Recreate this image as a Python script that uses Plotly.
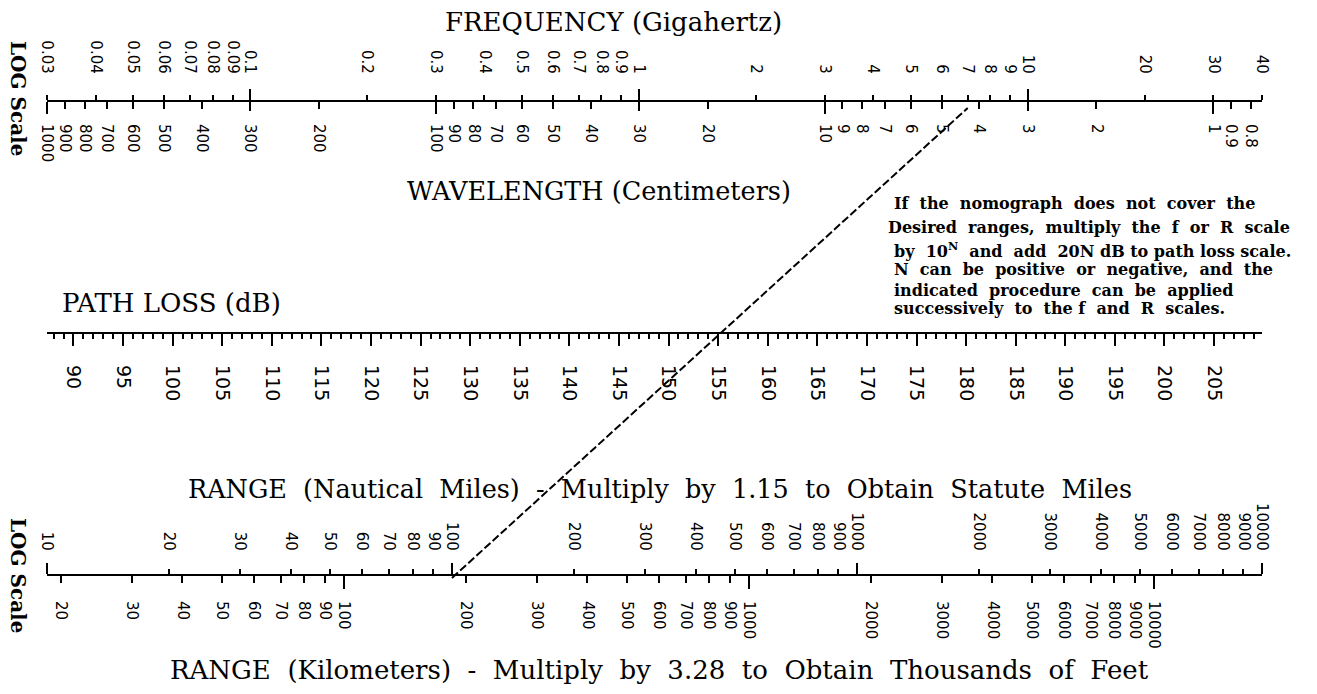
import numpy as np
import plotly.graph_objects as go

W, H = 1317, 694

# ---------------- data ----------------
freq_ghz = [0.03, 0.04, 0.05, 0.06, 0.07, 0.08, 0.09, 0.1, 0.2, 0.3, 0.4, 0.5, 0.6,
            0.7, 0.8, 0.9, 1, 2, 3, 4, 5, 6, 7, 8, 9, 10, 20, 30, 40]
freq_labels = ["0.03", "0.04", "0.05", "0.06", "0.07", "0.08", "0.09", "0.1", "0.2",
               "0.3", "0.4", "0.5", "0.6", "0.7", "0.8", "0.9", "1", "2", "3", "4",
               "5", "6", "7", "8", "9", "10", "20", "30", "40"]
freq_decades = [0.1, 1, 10]

wave_cm = [1000, 900, 800, 700, 600, 500, 400, 300, 200, 100, 90, 80, 70, 60, 50,
           40, 30, 20, 10, 9, 8, 7, 6, 5, 4, 3, 2, 1, 0.9, 0.8]
wave_labels = ["1000", "900", "800", "700", "600", "500", "400", "300", "200", "100",
               "90", "80", "70", "60", "50", "40", "30", "20", "10", "9", "8", "7",
               "6", "5", "4", "3", "2", "1", "0.9", "0.8"]
wave_decades = [1000, 100, 10, 1]

loss_major_db = list(range(90, 206, 5))
loss_labels = [str(v) for v in loss_major_db]
loss_minor_db = list(range(88, 210))

range_nm = [10, 20, 30, 40, 50, 60, 70, 80, 90, 100, 200, 300, 400, 500, 600, 700,
            800, 900, 1000, 2000, 3000, 4000, 5000, 6000, 7000, 8000, 9000, 10000]
range_nm_labels = [str(v) for v in range_nm]
range_nm_decades = [10, 100, 1000, 10000]

range_km = [20, 30, 40, 50, 60, 70, 80, 90, 100, 200, 300, 400, 500, 600, 700, 800,
            900, 1000, 2000, 3000, 4000, 5000, 6000, 7000, 8000, 9000, 10000]
range_km_labels = [str(v) for v in range_km]
range_km_decades = [100, 1000, 10000]

example_freq_ghz = 7.0
example_range_nm = 100.0

C_CM_GHZ = 30.0      # wavelength(cm) * frequency(GHz)
KM_PER_NM = 1.852

f_lo, f_hi = 0.03, 40.0
nm_lo, nm_hi = 10.0, 10000.0


def fspl_db(f, nm):
    return 20 * np.log10(f * 1000.0) + 20 * np.log10(nm * KM_PER_NM) + 32.44


# ---------------- layout geometry (pixels) ----------------
X0, X1 = 47, 1262
Y_FREQ, Y_RANGE = 101, 575
# path-loss line of a parallel-scale nomograph
dec_f = np.log10(f_hi / f_lo)
dec_r = np.log10(nm_hi / nm_lo)
t_loss = dec_r / (dec_f + dec_r)
Y_LOSS = Y_FREQ + t_loss * (Y_RANGE - Y_FREQ)

dom = [X0 / W, X1 / W]
EPS = 1e-7


def pos(ypx):
    return 1 - ypx / H


TICKFONT = dict(family="DejaVu Sans", size=15, color="black")
SERIF = "DejaVu Serif"

base = dict(domain=dom, anchor="free", showgrid=False, zeroline=False, automargin=False,
            ticks="outside", tickwidth=2, tickcolor="black", linecolor="black",
            linewidth=2, tickfont=TICKFONT, tickangle=90, tickmode="array",
            fixedrange=True)


def ax(**kw):
    d = dict(base)
    d.update(kw)
    return d


lf = [np.log10(f_lo) - EPS, np.log10(f_hi) + EPS]
lw = [np.log10(C_CM_GHZ / f_lo) + EPS, np.log10(C_CM_GHZ / f_hi) - EPS]
ll = [fspl_db(f_lo, nm_lo) - EPS, fspl_db(f_hi, nm_hi) + EPS]
ln = [np.log10(nm_lo) - EPS, np.log10(nm_hi) + EPS]
lk = [np.log10(nm_lo * KM_PER_NM) - EPS, np.log10(nm_hi * KM_PER_NM) + EPS]

layout = dict(
    width=W, height=H, margin=dict(l=0, r=0, t=0, b=0, pad=0, autoexpand=False),
    paper_bgcolor="white", plot_bgcolor="white", showlegend=False,
    yaxis=dict(range=[H, 0], visible=False, domain=[0, 1], fixedrange=True,
               automargin=False),
    # frequency (top of line)
    xaxis=ax(type="log", range=lf, side="top", position=pos(Y_FREQ), showline=True,
             ticklen=5, tickvals=freq_ghz, ticktext=freq_labels, ticklabelstandoff=16),
    xaxis2=ax(type="log", range=lf, side="top", position=pos(Y_FREQ), overlaying="x",
              ticklen=11, tickvals=freq_decades, showticklabels=False),
    xaxis3=ax(type="log", range=lf, side="bottom", position=pos(Y_FREQ), overlaying="x",
              ticklen=9, tickvals=freq_decades, showticklabels=False),
    # wavelength (bottom of line)
    xaxis4=ax(type="log", range=lw, side="bottom", position=pos(Y_FREQ), overlaying="x",
              ticklen=7, tickvals=wave_cm, ticktext=wave_labels, ticklabelstandoff=12),
    xaxis5=ax(type="log", range=lw, side="bottom", position=pos(Y_FREQ), overlaying="x",
              ticklen=12, tickvals=wave_decades, showticklabels=False),
    # path loss
    xaxis6=ax(type="linear", range=ll, side="bottom", position=pos(Y_LOSS), overlaying="x",
              showline=True, ticklen=12, tickvals=loss_major_db, ticktext=loss_labels,
              tickfont=dict(family="DejaVu Sans", size=19, color="black"),
              ticklabelstandoff=15,
              minor=dict(tickmode="array", tickvals=loss_minor_db, ticklen=5,
                         tickwidth=2, tickcolor="black", ticks="outside")),
    # range nautical miles (top of line)
    xaxis7=ax(type="log", range=ln, side="top", position=pos(Y_RANGE), overlaying="x",
              showline=True, ticklen=5, tickvals=range_nm, ticktext=range_nm_labels,
              ticklabelstandoff=13),
    xaxis8=ax(type="log", range=ln, side="top", position=pos(Y_RANGE), overlaying="x",
              ticklen=11, tickvals=range_nm_decades, showticklabels=False),
    # range km (bottom of line)
    xaxis9=ax(type="log", range=lk, side="bottom", position=pos(Y_RANGE), overlaying="x",
              ticklen=7, tickvals=range_km, ticktext=range_km_labels, ticklabelstandoff=15),
    xaxis10=ax(type="log", range=lk, side="bottom", position=pos(Y_RANGE), overlaying="x",
               ticklen=13, tickvals=range_km_decades, showticklabels=False),
)

fig = go.Figure(layout=layout)

# empty traces so that every overlay axis gets drawn
for i in range(2, 11):
    fig.add_trace(go.Scatter(x=[], y=[], xaxis=f"x{i}", yaxis="y", hoverinfo="skip"))

# example path: range 100 nm  ->  7 GHz, drawn on the frequency axis
frac_r = (np.log10(example_range_nm) - np.log10(nm_lo)) / dec_r
f_equiv = 10 ** (np.log10(f_lo) + frac_r * dec_f)
fig.add_trace(go.Scatter(
    x=[f_equiv, example_freq_ghz], y=[Y_RANGE + 3, Y_FREQ + 7],
    xaxis="x", yaxis="y", mode="lines", hoverinfo="skip",
    line=dict(color="black", width=2, dash="8px,3px")))

ann = []


def text(s, xpx, ypx, size, family=SERIF, angle=0, xanchor="center", yanchor="middle",
         weight="normal"):
    ann.append(dict(text=s, x=xpx / W, y=1 - ypx / H, xref="paper", yref="paper",
                    showarrow=False, textangle=angle, xanchor=xanchor, yanchor=yanchor,
                    font=dict(family=family, size=size, color="black", weight=weight)))


def wide(s):
    return s.replace(" ", "  ")


text("FREQUENCY (Gigahertz)", 613, 22, 26)
text("WAVELENGTH (Centimeters)", 599, 191, 25.5)
text("PATH LOSS (dB)", 171, 303, 26)
text(wide("RANGE (Nautical Miles) - Multiply by 1.15 to Obtain Statute Miles"), 660, 489, 25.5)
text(wide("RANGE (Kilometers) - Multiply by 3.28 to Obtain Thousands of Feet"), 659, 670, 26)
text("LOG Scale", 18, 98, 20, angle=90, weight="bold")
text("LOG Scale", 18, 575, 20, angle=90, weight="bold")

note = [wide("If the nomograph does not cover the"),
        wide("Desired ranges, multiply the f or R scale"),
        "by  10<sup>N</sup>  and  add  20N dB to path loss scale.",
        wide("N can be positive or negative, and the"),
        wide("indicated procedure can be applied"),
        "successively  to  the f  and  R  scales."]
note_x = [892, 886, 892, 892, 892, 892]
note_y = [203, 227, 250, 269, 290, 308]
for s, xx, yy in zip(note, note_x, note_y):
    text(s, xx, yy, 16, weight="bold", xanchor="left")

fig.update_layout(annotations=ann)
fig.write_html("out.html", config={"displayModeBar": False},
               post_script="document.body.style.margin='0px';"
                           "document.body.style.overflow='hidden';")
